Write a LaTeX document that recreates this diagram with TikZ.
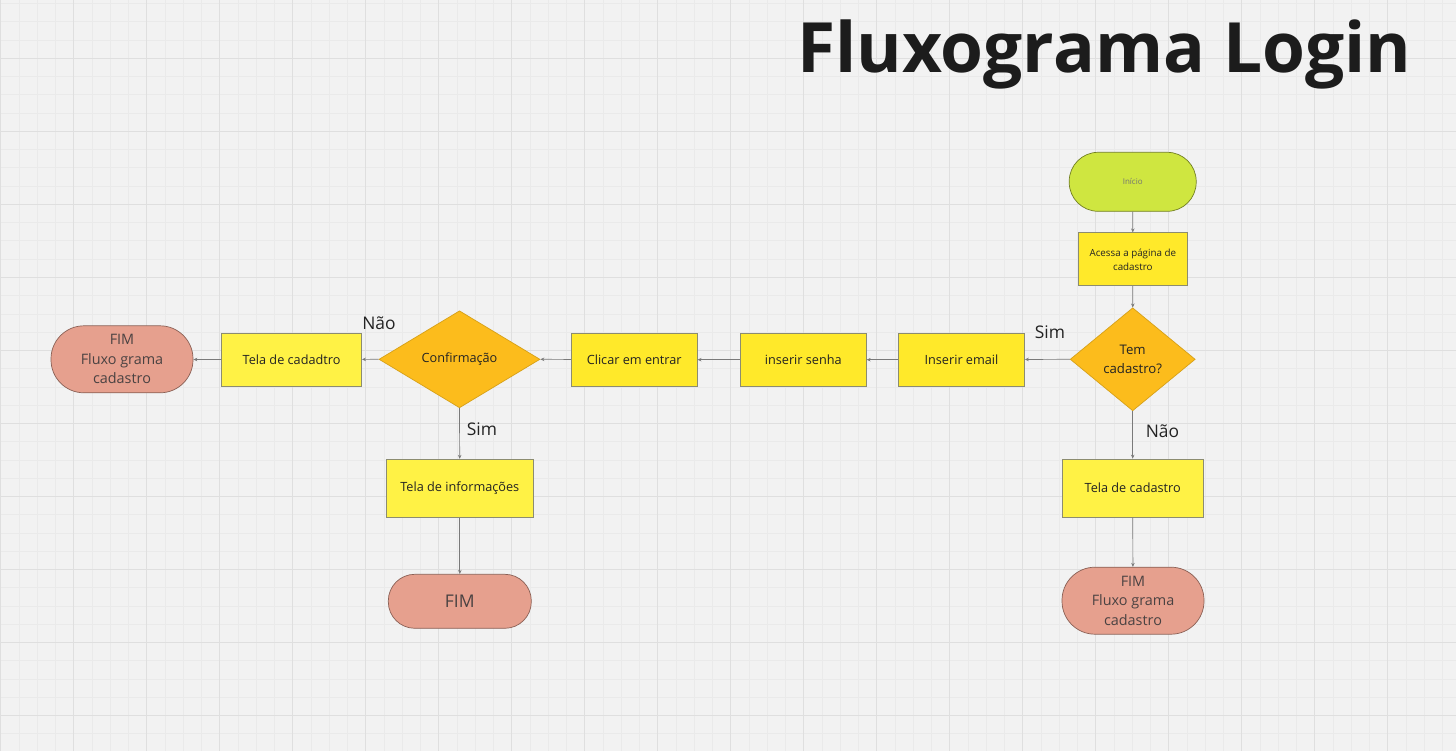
\documentclass[tikz,border=0pt]{standalone}
\usepackage{fontspec}
\setmainfont{Open Sans}
\usetikzlibrary{shapes.geometric,arrows.meta}
\definecolor{bgc}{HTML}{F2F2F2}
\definecolor{gridminor}{HTML}{EAEAEA}
\definecolor{gridmajor}{HTML}{DFDFDF}
\definecolor{startgreen}{HTML}{CFE640}
\definecolor{boxyellow}{HTML}{FFE92A}
\definecolor{lightyellow}{HTML}{FFF245}
\definecolor{decorange}{HTML}{FCBC1C}
\definecolor{endsalmon}{HTML}{E6A08E}
\definecolor{edgec}{HTML}{7A7A7A}
\definecolor{borderc}{HTML}{8C8C70}
\definecolor{txt}{HTML}{232323}
\definecolor{endtxt}{HTML}{4A4242}
\tikzset{
  basebox/.style={draw=borderc, line width=0.7pt, text=txt, inner sep=0pt, align=center, font=\fontsize{12.7}{17}\selectfont},
  procbox/.style={basebox, rectangle, fill=boxyellow, minimum width=126pt, minimum height=53pt},
  lightbox/.style={basebox, rectangle, fill=lightyellow, minimum width=141pt, minimum height=58pt},
  decision/.style={basebox, diamond, fill=decorange, draw=decorange!85!black},
  terminal/.style={basebox, rectangle, fill=endsalmon, draw=endsalmon!60!black, text=endtxt, minimum width=142pt, minimum height=67pt, rounded corners=33pt, font=\fontsize{14.4}{19.5}\selectfont},
  flow/.style={draw=edgec, line width=0.7pt, -{Stealth[length=4pt,width=3.5pt]}},
  lbl/.style={text=txt, inner sep=0pt, font=\fontsize{17.4}{20}\selectfont},
}
\begin{document}
\begin{tikzpicture}[x=1pt,y=-1pt]
\useasboundingbox (0,0) rectangle (1456,751);
\fill[bgc] (0,0) rectangle (1456,751);
% grid
\foreach \i in {0,...,80} \draw[gridminor, line width=0.6pt] ({0.7+18.25*\i},0) -- ({0.7+18.25*\i},751);
\foreach \i in {0,...,42} \draw[gridminor, line width=0.6pt] (0,{-14.7+18.25*\i}) -- (1456,{-14.7+18.25*\i});
\foreach \i in {0,...,19} \draw[gridmajor, line width=1pt] ({0.7+73*\i},0) -- ({0.7+73*\i},751);
\foreach \i in {0,...,9} \draw[gridmajor, line width=1pt] (0,{58.3+73*\i}) -- (1456,{58.3+73*\i});

% title
\node[anchor=base west, inner sep=0pt, text=black!89, font=\fontsize{69.4}{80}\selectfont\bfseries] (title) at (797,72.7) {Fluxograma Login};

% nodes
\node[basebox, rectangle, fill=startgreen, draw=startgreen!55!black, minimum width=127pt, minimum height=59pt, rounded corners=29pt, text=black!55, font=\fontsize{8}{10}\selectfont] (inicio) at (1132.7,181.8) {Início};
\node[procbox, minimum width=109pt, minimum height=53pt, font=\fontsize{9.8}{14}\selectfont] (acessa) at (1132.8,259.3) {Acessa a página de\\cadastro};
\node[decision, minimum width=125pt, minimum height=103pt, font=\fontsize{13.2}{19}\selectfont] (temcad) at (1132.7,359.3) {Tem\\cadastro?};
\node[procbox] (email) at (961.5,359.7) {Inserir email};
\node[procbox] (senha) at (803.3,359.7) {inserir senha};
\node[procbox] (clicar) at (634.2,359.7) {Clicar em entrar};
\node[decision, minimum width=161pt, minimum height=97pt] (confirm) at (459.5,359.3) {\raisebox{-2pt}{Confirmação}};
\node[lightbox, minimum width=140pt, minimum height=53pt] (telacadadtro) at (291.6,359.8) {Tela de cadadtro};
\node[terminal] (fimleft) at (122,359.3) {FIM\\Fluxo grama\\cadastro};
\node[lightbox, minimum width=147pt, minimum height=58pt] (telainfo) at (459.8,488.2) {Tela de informações};
\node[terminal, minimum width=143pt, minimum height=54pt, rounded corners=26.5pt, font=\fontsize{17.5}{20}\selectfont] (fim) at (459.8,601.3) {FIM};
\node[lightbox] (telacadastro) at (1132.7,488) {Tela de cadastro};
\node[terminal] (fimright) at (1133,600.7) {FIM\\Fluxo grama\\cadastro};

% labels
\node[lbl] (naoleft) at (379,323) {Não};
\node[lbl] (simbottom) at (482,429) {Sim};
\node[lbl] (simright) at (1050,332) {Sim};
\node[lbl] (naoright) at (1162.5,431) {Não};

% connectors
\draw[flow] (inicio) -- (acessa);
\draw[flow] (acessa) -- (temcad);
\draw[flow] (temcad.west) -- (email);
\draw[flow] (email) -- (senha);
\draw[flow] (senha) -- (clicar);
\draw[flow] (clicar) -- (confirm.east);
\draw[flow] (confirm.west) -- (telacadadtro);
\draw[flow] (telacadadtro) -- (fimleft);
\draw[flow] (confirm.south) -- (telainfo);
\draw[flow] (telainfo) -- (fim);
\draw[flow] (temcad.south) -- (telacadastro);
\draw[flow] (telacadastro) -- (fimright);
\end{tikzpicture}
\end{document}
